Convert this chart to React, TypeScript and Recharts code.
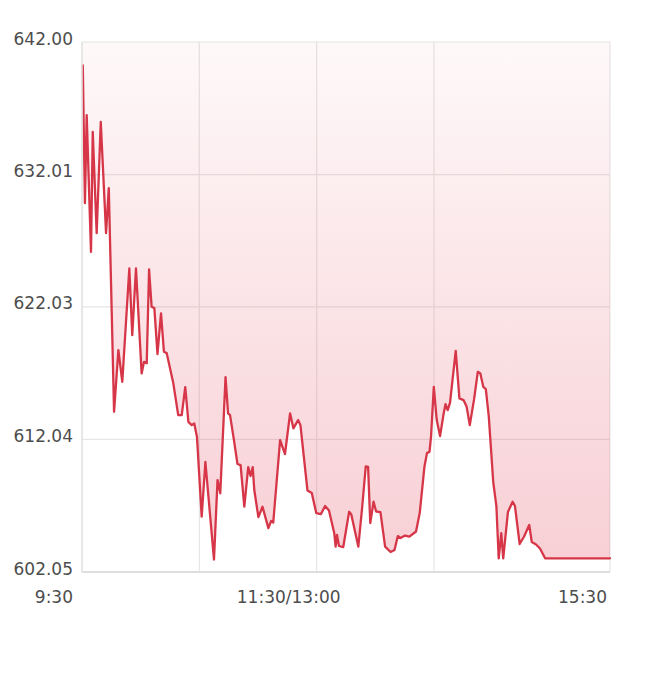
import React from 'react';
import { ComposedChart, Area, XAxis, YAxis, CartesianGrid } from 'recharts';

// minutes since 9:30 (trading minutes, lunch break removed)
const times = [
  0.4, 1.5, 2.4, 4.6, 5.5, 7.5, 9.6, 12.3, 13.7, 16.4,
  18.6, 20.6, 24.2, 25.7, 27.6, 30.5, 31.7, 33.1, 34.3, 35.6,
  37.0, 38.6, 40.4, 41.9, 43.3, 46.7, 49.2, 51.0, 52.8, 54.4,
  56.1, 57.4, 58.8, 61.2, 63.1, 67.5, 69.3, 70.7, 73.4, 74.7,
  75.7, 77.7, 79.5, 81.1, 83.0, 85.0, 86.2, 87.3, 88.1, 90.2,
  92.3, 95.3, 96.7, 97.8, 101.3, 103.8, 106.4, 108.1, 110.5, 111.7,
  115.3, 117.5, 119.8, 122.2, 124.3, 126.3, 129.0, 129.7, 130.4, 131.4,
  133.6, 136.6, 137.7, 141.3, 143.3, 145.1, 146.3, 147.4, 149.1, 150.4,
  152.6, 155.0, 157.8, 159.8, 161.5, 162.9, 165.2, 167.4, 170.8, 172.7,
  175.1, 176.4, 177.7, 178.5, 179.9, 181.4, 183.1, 184.8, 185.9, 187.0,
  188.2, 191.1, 193.0, 195.1, 196.7, 198.3, 200.5, 202.4, 203.7, 205.2,
  206.5, 208.0, 210.3, 211.9, 213.1, 214.4, 215.4, 217.8, 220.2, 221.4,
  223.8, 226.0, 228.7, 230.0, 232.2, 234.2, 236.8, 270,
];

const prices = [
  640.24, 629.85, 636.48, 626.18, 635.22, 627.59, 635.97, 627.59, 630.98, 614.13,
  618.77, 616.39, 624.93, 619.9, 624.93, 617.02, 617.89, 617.79, 624.85, 622.04,
  621.94, 618.47, 621.54, 618.65, 618.55, 616.27, 613.88, 613.88, 615.99, 613.37,
  613.12, 613.25, 612.22, 606.22, 610.34, 602.99, 608.98, 607.98, 616.74, 614.01,
  613.88, 611.99, 610.19, 610.11, 606.98, 609.96, 609.28, 609.96, 608.23, 606.19,
  606.97, 605.36, 605.89, 605.78, 611.99, 610.94, 614.01, 612.88, 613.5, 613.12,
  608.19, 608.0, 606.49, 606.42, 607.02, 606.68, 604.97, 603.97, 604.84, 604.01,
  603.93, 606.59, 606.38, 603.97, 606.97, 610.01, 609.98, 605.74, 607.35, 606.61,
  606.57, 603.96, 603.56, 603.71, 604.76, 604.61, 604.8, 604.72, 605.1, 606.49,
  609.98, 611.01, 611.11, 612.3, 616.01, 613.5, 612.3, 613.88, 614.71, 614.25,
  614.82, 618.72, 615.14, 615.01, 614.5, 613.12, 615.08, 617.14, 617.02, 616.01,
  615.84, 613.8, 608.83, 607.02, 603.08, 604.97, 603.08, 606.57, 607.35, 607.02,
  604.16, 604.71, 605.59, 604.31, 604.12, 603.82, 603.08, 603.08,
];

const yTicks = [602.05, 612.04, 622.03, 632.01, 642.0];
const xTicks = [0, 60, 120, 180, 270];
const xLabels = ['9:30', '', '11:30/13:00', '', '15:30'];

const data = times.map((t, i) => ({ t, v: prices[i] }));

const FONT = '"DejaVu Sans", sans-serif';
const TEXT = '#4d4d4d';

const YTick = (props: any) => {
  const { x, y, payload } = props;
  return (
    <text x={x - 1} y={y + 2.5} textAnchor="end" fontFamily={FONT} fontSize={17} fill={TEXT}>
      {Number(payload.value).toFixed(2)}
    </text>
  );
};

const XTick = (props: any) => {
  const { x, y, payload } = props;
  const idx = xTicks.indexOf(payload.value);
  const label = xLabels[idx];
  if (!label) return null;
  let anchor: 'end' | 'middle' = 'end';
  let dx = 0;
  if (idx === 0) { anchor = 'end'; dx = -9; }
  else if (idx === xTicks.length - 1) { anchor = 'end'; dx = -3; }
  else { anchor = 'middle'; dx = -28; }
  return (
    <text x={x + dx} y={y + 23} textAnchor={anchor} fontFamily={FONT} fontSize={17} fill={TEXT}>
      {label}
    </text>
  );
};

export default function App() {
  return (
    <div style={{ position: 'absolute', left: 0, top: 0, background: '#fff' }}>
      <ComposedChart
        width={645}
        height={678}
        data={data}
        margin={{ top: 42, right: 35, left: 0, bottom: 76 }}
      >
        <defs>
          <linearGradient id="fillGrad" x1="0" y1="0" x2="0" y2="1">
            <stop offset="0%" stopColor="#de2840" stopOpacity={0.03} />
            <stop offset="100%" stopColor="#de2840" stopOpacity={0.22} />
          </linearGradient>
        </defs>
        <CartesianGrid stroke="#e6e6e6" strokeWidth={1.2} />
        <XAxis
          type="number"
          dataKey="t"
          domain={[0, 270]}
          ticks={xTicks}
          interval={0}
          height={30}
          tickLine={false}
          axisLine={{ stroke: '#dedede', strokeWidth: 2 }}
          tick={<XTick />}
        />
        <YAxis
          type="number"
          domain={[602.05, 642]}
          ticks={yTicks}
          interval={0}
          width={82}
          tickLine={false}
          axisLine={{ stroke: '#e4e4e4', strokeWidth: 1.5 }}
          tick={<YTick />}
          allowDataOverflow
        />
        <Area
          type="linear"
          dataKey="v"
          baseValue={642}
          stroke="#d63648"
          strokeWidth={2.3}
          strokeLinejoin="round"
          strokeLinecap="round"
          fill="url(#fillGrad)"
          fillOpacity={1}
          dot={false}
          activeDot={false}
          isAnimationActive={false}
        />
      </ComposedChart>
    </div>
  );
}
